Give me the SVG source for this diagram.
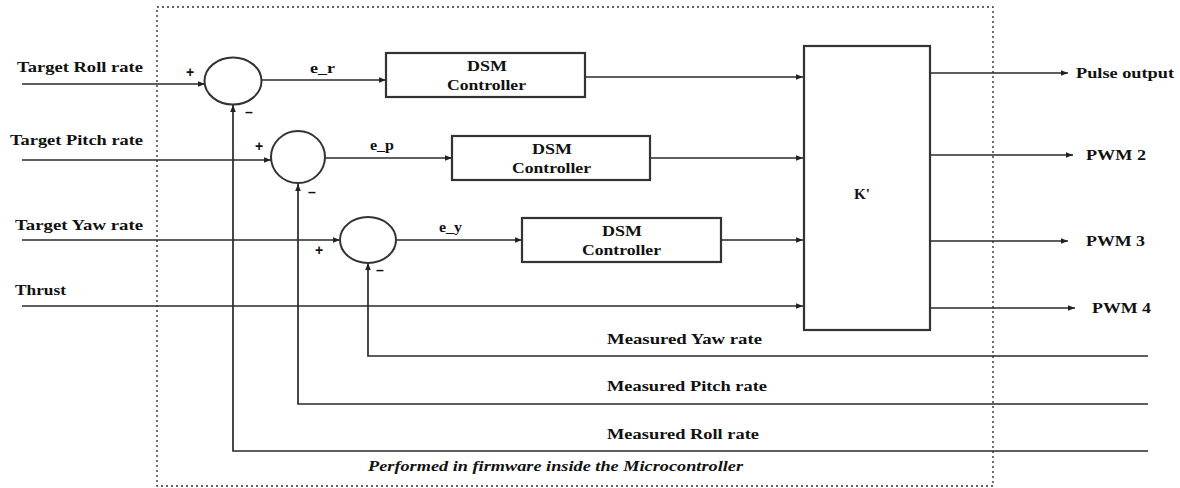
<svg xmlns="http://www.w3.org/2000/svg" width="1180" height="488" viewBox="0 0 1180 488">
<defs>
<marker id="ah" viewBox="0 0 10 10" refX="10" refY="5" markerWidth="7" markerHeight="7" markerUnits="userSpaceOnUse" orient="auto">
<path d="M0,1 L10,5 L0,9 z" fill="#222"/>
</marker>
<style>
.ar{stroke:#2a2a2a;stroke-width:1.7;fill:none;marker-end:url(#ah)}
.box{fill:#fff;stroke:#333;stroke-width:2.2}
.sum{fill:#fff;stroke:#333;stroke-width:2}
.t{font-family:"Liberation Serif",serif;font-weight:bold;font-size:15px;fill:#111}
.s{font-family:"Liberation Serif",serif;font-weight:bold;font-size:14px;fill:#111}
.sg{font-family:"Liberation Sans",sans-serif;font-weight:bold;font-size:14px;fill:#111}
.it{font-family:"Liberation Serif",serif;font-weight:bold;font-style:italic;font-size:15px;fill:#111}
.dash{fill:none;stroke:#333;stroke-width:1.4;stroke-dasharray:2,3}
</style>
</defs>
<rect width="1180" height="488" fill="#fff"/>
<rect id="firmware" class="dash" x="157" y="7" width="836" height="479"/>
<g id="connectors">
<line class="ar" x1="22" y1="84" x2="205" y2="84"/>
<line class="ar" x1="262" y1="80" x2="386" y2="80"/>
<line class="ar" x1="585" y1="77" x2="803" y2="77"/>
<line class="ar" x1="22" y1="160" x2="271" y2="160"/>
<line class="ar" x1="325" y1="158" x2="452" y2="158"/>
<line class="ar" x1="650" y1="158" x2="803" y2="158"/>
<line class="ar" x1="22" y1="240" x2="340" y2="240"/>
<line class="ar" x1="396" y1="240" x2="522" y2="240"/>
<line class="ar" x1="721" y1="240" x2="803" y2="240"/>
<line class="ar" x1="22" y1="306" x2="803" y2="306"/>
<line class="ar" x1="930" y1="73" x2="1068" y2="73"/>
<line class="ar" x1="930" y1="155" x2="1073" y2="155"/>
<line class="ar" x1="930" y1="241" x2="1068" y2="241"/>
<line class="ar" x1="930" y1="308" x2="1075" y2="308"/>
<polyline class="ar" points="1148,451 233,451 233,105"/>
<polyline class="ar" points="1148,404 298,404 298,184"/>
<polyline class="ar" points="1148,356 368,356 368,263"/>
</g>
<g id="sum_roll"><ellipse class="sum" cx="233" cy="81" rx="28.5" ry="23.5"/></g>
<g id="sum_pitch"><ellipse class="sum" cx="298" cy="157" rx="27" ry="26"/></g>
<g id="sum_yaw"><ellipse class="sum" cx="368" cy="240" rx="28" ry="23"/></g>
<g id="dsm_roll"><rect class="box" x="386" y="53" width="199" height="44"/>
<text class="s" x="467" y="71" textLength="40" lengthAdjust="spacingAndGlyphs">DSM</text>
<text class="s" x="447" y="90" textLength="79" lengthAdjust="spacingAndGlyphs">Controller</text></g>
<g id="dsm_pitch"><rect class="box" x="452" y="136" width="198" height="44"/>
<text class="s" x="532" y="154" textLength="40" lengthAdjust="spacingAndGlyphs">DSM</text>
<text class="s" x="512" y="173" textLength="79" lengthAdjust="spacingAndGlyphs">Controller</text></g>
<g id="dsm_yaw"><rect class="box" x="522" y="218" width="199" height="44"/>
<text class="s" x="602" y="236" textLength="40" lengthAdjust="spacingAndGlyphs">DSM</text>
<text class="s" x="582" y="255" textLength="79" lengthAdjust="spacingAndGlyphs">Controller</text></g>
<g id="kmatrix"><rect class="box" x="804" y="46" width="126" height="284"/>
<text class="s" x="854" y="199" textLength="16" lengthAdjust="spacingAndGlyphs">K'</text></g>
<g id="labels">
<text class="t" x="17" y="72" textLength="126" lengthAdjust="spacingAndGlyphs">Target Roll rate</text>
<text class="t" x="10" y="145" textLength="133" lengthAdjust="spacingAndGlyphs">Target Pitch rate</text>
<text class="t" x="15" y="230" textLength="128" lengthAdjust="spacingAndGlyphs">Target Yaw rate</text>
<text class="t" x="15" y="295" textLength="51" lengthAdjust="spacingAndGlyphs">Thrust</text>
<text class="s" x="310" y="73" textLength="25" lengthAdjust="spacingAndGlyphs">e_r</text>
<text class="s" x="370" y="150" textLength="24" lengthAdjust="spacingAndGlyphs">e_p</text>
<text class="s" x="439" y="232" textLength="23" lengthAdjust="spacingAndGlyphs">e_y</text>
<text class="t" x="1076" y="78" textLength="98" lengthAdjust="spacingAndGlyphs">Pulse output</text>
<text class="t" x="1086" y="160" textLength="60" lengthAdjust="spacingAndGlyphs">PWM 2</text>
<text class="t" x="1086" y="246" textLength="59" lengthAdjust="spacingAndGlyphs">PWM 3</text>
<text class="t" x="1092" y="313" textLength="59" lengthAdjust="spacingAndGlyphs">PWM 4</text>
<text class="t" x="607" y="344" textLength="155" lengthAdjust="spacingAndGlyphs">Measured Yaw rate</text>
<text class="t" x="607" y="391" textLength="160" lengthAdjust="spacingAndGlyphs">Measured Pitch rate</text>
<text class="t" x="607" y="439" textLength="152" lengthAdjust="spacingAndGlyphs">Measured Roll rate</text>
<text class="it" x="368" y="471" textLength="375" lengthAdjust="spacingAndGlyphs">Performed in firmware inside the Microcontroller</text>
<text class="sg" x="186" y="77">+</text>
<text class="sg" x="245" y="117">–</text>
<text class="sg" x="255" y="151">+</text>
<text class="sg" x="308" y="197">–</text>
<text class="sg" x="315" y="255">+</text>
<text class="sg" x="376" y="275">–</text>
</g>
</svg>
